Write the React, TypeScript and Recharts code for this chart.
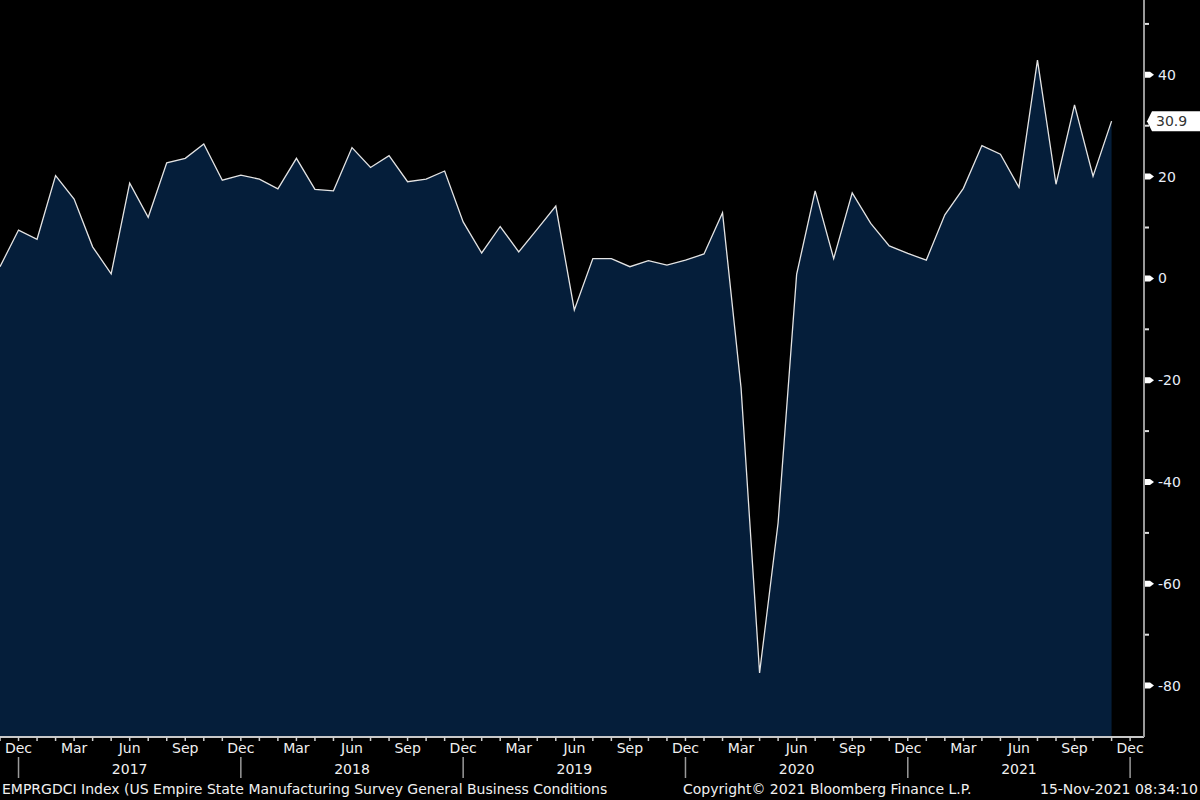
import { AreaChart, Area, XAxis, YAxis, ReferenceLine } from "recharts";

// monthly readings, Nov 2016 .. Nov 2021
const START_YEAR = 2016;
const START_MONTH = 10; // Nov
const MONTH_NAMES = ["Jan", "Feb", "Mar", "Apr", "May", "Jun", "Jul", "Aug", "Sep", "Oct", "Nov", "Dec"];
const LABELED_MONTHS = ["Dec", "Mar", "Jun", "Sep"];

const values = [
  2.3, 9.5, 7.7, 20.2, 15.6, 6.2, 0.9, 18.7, 12.0, 22.7, 23.6, 26.4,
  19.3, 20.3, 19.5, 17.6, 23.6, 17.5, 17.2, 25.7, 21.8, 24.1, 19.0, 19.5,
  21.1, 11.1, 5.0, 10.2, 5.2, 9.7, 14.2, -6.2, 3.9, 3.9, 2.3, 3.5,
  2.6, 3.6, 4.8, 12.9, -21.5, -77.5, -48.0, 0.8, 17.2, 3.9, 16.8, 10.8,
  6.4, 4.9, 3.6, 12.5, 17.7, 26.1, 24.4, 17.9, 42.9, 18.5, 34.1, 20.1,
  30.9,
];

const LAST_VALUE = 30.9;
const monthTicks = Array.from({ length: 62 }, (_, k) => k); // Nov 2016 .. Dec 2021
const yTicks = [50, 40, 30, 20, 10, 0, -10, -20, -30, -40, -50, -60, -70, -80];

const FONT = "'DejaVu Sans', sans-serif";

const data = values.map((v, i) => ({ i, v }));

function XTick(props: any) {
  const { x, y, payload } = props;
  const idx = payload.value;
  const name = MONTH_NAMES[(START_MONTH + idx) % 12];
  const year = START_YEAR + Math.floor((START_MONTH + idx) / 12);
  return (
    <g>
      <line x1={x} x2={x} y1={y} y2={y + 4} stroke="#cfcfcf" strokeWidth={1.5} />
      {LABELED_MONTHS.includes(name) && (
        <text x={x} y={y + 16} textAnchor="middle" fill="#f0f0f0" fontSize={14} fontFamily={FONT}>
          {name}
        </text>
      )}
      {name === "Dec" && <line x1={x} x2={x} y1={y + 20} y2={y + 41} stroke="#9a9a9a" strokeWidth={1.5} />}
      {name === "Jun" && (
        <text x={x} y={y + 37} textAnchor="middle" fill="#f0f0f0" fontSize={14} fontFamily={FONT}>
          {year}
        </text>
      )}
    </g>
  );
}

function YTick(props: any) {
  const { x, y, payload } = props;
  const v = payload.value;
  if (v % 20 !== 0) {
    return <rect x={x + 1} y={y - 1} width={4} height={2} fill="#e0e0e0" />;
  }
  return (
    <g>
      <polygon
        points={`${x + 1},${y - 3} ${x + 6},${y - 3} ${x + 10},${y} ${x + 6},${y + 3} ${x + 1},${y + 3}`}
        fill="#ffffff"
      />
      <text x={x + 14} y={y} dy="0.36em" fill="#e8eef8" fontSize={14} fontFamily={FONT}>
        {v}
      </text>
    </g>
  );
}

function LastValueLabel(props: any) {
  const { viewBox } = props;
  const x = viewBox.x + viewBox.width;
  const y = viewBox.y;
  return (
    <g>
      <polygon
        points={`${x + 3},${y} ${x + 8},${y - 10} ${x + 60},${y - 10} ${x + 60},${y + 10} ${x + 8},${y + 10}`}
        fill="#ffffff"
      />
      <text x={x + 12} y={y} dy="0.36em" fill="#333" fontSize={14} fontFamily={FONT}>
        {LAST_VALUE}
      </text>
    </g>
  );
}

const footerStyle = {
  position: "absolute" as const,
  top: 781,
  color: "#f0f0f0",
  fontFamily: FONT,
  fontSize: 14,
  lineHeight: "17px",
  whiteSpace: "nowrap" as const,
};

export default function App() {
  return (
    <div
      style={{
        position: "absolute",
        left: 0,
        top: 0,
        width: 1200,
        height: 800,
        background: "#000",
        overflow: "hidden",
      }}
    >
      <AreaChart width={1200} height={800} data={data} margin={{ top: 0, right: 0, left: 0, bottom: 0 }}>
        <XAxis
          dataKey="i"
          type="number"
          domain={[0, 61.75]}
          allowDataOverflow
          ticks={monthTicks}
          interval={0}
          height={63}
          tickSize={0}
          tickMargin={0}
          tick={<XTick />}
          axisLine={{ stroke: "#c8c8c8", strokeWidth: 2 }}
        />
        <YAxis
          orientation="right"
          type="number"
          domain={[-90.1, 54.7]}
          allowDataOverflow
          ticks={yTicks}
          interval={0}
          width={56}
          tickSize={0}
          tickMargin={0}
          tick={<YTick />}
          axisLine={{ stroke: "#9a9a9a", strokeWidth: 2 }}
        />
        <Area
          type="linear"
          dataKey="v"
          stroke="#e4e4e4"
          strokeWidth={1.3}
          fill="#051e3a"
          fillOpacity={1}
          baseValue="dataMin"
          dot={false}
          activeDot={false}
          isAnimationActive={false}
        />
        <ReferenceLine y={LAST_VALUE} stroke="none" label={<LastValueLabel />} />
      </AreaChart>
      <div style={{ ...footerStyle, left: 2 }}>
        EMPRGDCI Index (US Empire State Manufacturing Survey General Business Conditions
      </div>
      <div style={{ ...footerStyle, left: 683 }}>Copyright© 2021 Bloomberg Finance L.P.</div>
      <div style={{ ...footerStyle, left: 1040 }}>15-Nov-2021 08:34:10</div>
    </div>
  );
}
